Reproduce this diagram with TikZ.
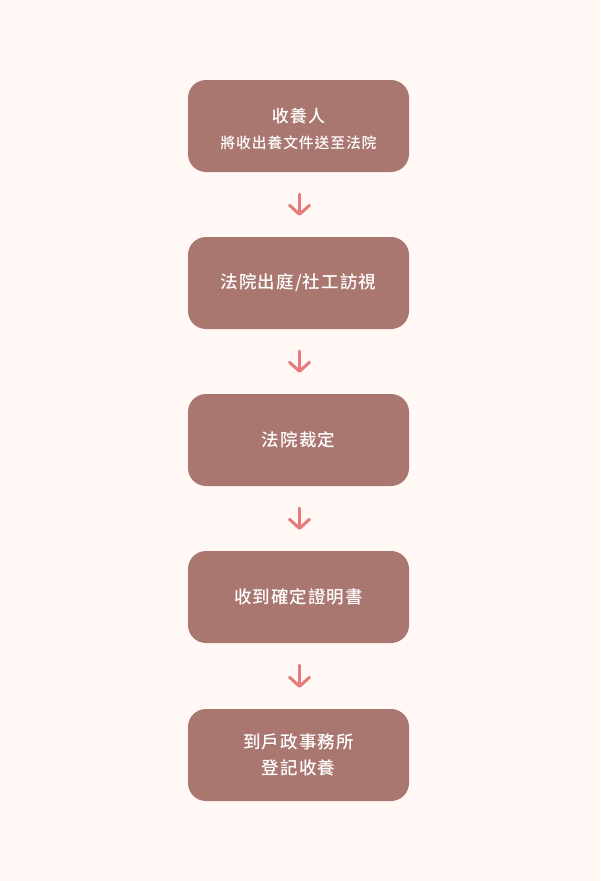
\documentclass[tikz,border=0pt]{standalone}
\usepackage{fontspec}
\setmainfont{Noto Sans CJK TC}[UprightFont=* Medium, LetterSpace=6]
\usetikzlibrary{arrows.meta}
\definecolor{bg}{HTML}{FFF8F5}
\definecolor{boxc}{HTML}{A97670}
\definecolor{arr}{HTML}{E77A7A}
\tikzset{
  stepbox/.style={draw=none, fill=boxc, rounded corners=18pt, minimum width=221pt, minimum height=92pt, inner sep=0pt, text=white, align=center, font=\fontsize{17.5}{26}\selectfont},
  flow/.style={draw=arr, line width=3pt, line cap=round, line join=round, -{Straight Barb[length=9pt,width=20pt,line width=3pt,round]}}
}
\begin{document}
\begin{tikzpicture}[x=1pt,y=-1pt]
\useasboundingbox[fill=bg] (0,0) rectangle (600,881);
\node[stepbox] (a) at (298.5,126) {\raisebox{-4.5pt}[\height][\depth]{\begin{tabular}{@{}c@{}}{\fontsize{17}{26}\selectfont 收養人}\\[-0.5pt]{\fontsize{14.8}{22}\selectfont 將收出養文件送至法院}\end{tabular}}};
\node[stepbox] (b) at (298.5,283) {法院出庭/社工訪視};
\node[stepbox] (c) at (298.5,440) {法院裁定};
\node[stepbox] (d) at (298.5,597) {收到確定證明書};
\node[stepbox] (e) at (298.5,755) {到戶政事務所\\登記收養};
\draw[flow] ([xshift=1pt,yshift=-22pt]a.south) -- ([xshift=1pt,yshift=21pt]b.north);
\draw[flow] ([xshift=1pt,yshift=-22pt]b.south) -- ([xshift=1pt,yshift=21pt]c.north);
\draw[flow] ([xshift=1pt,yshift=-22pt]c.south) -- ([xshift=1pt,yshift=21pt]d.north);
\draw[flow] ([xshift=1pt,yshift=-22pt]d.south) -- ([xshift=1pt,yshift=21pt]e.north);
\end{tikzpicture}
\end{document}
